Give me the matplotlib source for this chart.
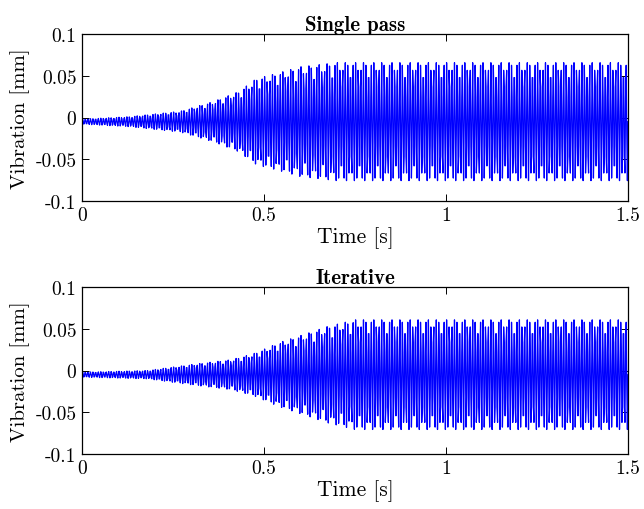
#vibration response - single pass vs iterative
import numpy as np
import matplotlib.pyplot as plt

plt.rcParams['font.family'] = 'cmr10'
plt.rcParams['mathtext.fontset'] = 'cm'
plt.rcParams['axes.unicode_minus'] = False

#envelope (time [s], half amplitude [mm])
env_t = [0, 0.13, 0.27, 0.36, 0.43, 0.48, 0.535, 0.6, 0.7, 1.5]
env_single = [0.003, 0.006, 0.0125, 0.024, 0.036, 0.052, 0.058, 0.066, 0.071, 0.071]
env_t_iter = [0, 0.18, 0.315, 0.41, 0.47, 0.545, 0.635, 0.675, 0.75, 1.5]
env_iter = [0.003, 0.005, 0.013, 0.018, 0.025, 0.039, 0.052, 0.058, 0.066, 0.066]
offset = -0.005        # centre of the band sits a bit below zero
f_vib = 140.0          # oscillation frequency read from the spacing of peaks [Hz]
fs = 600.0             # logging rate [Hz]

titles = ['Single pass', 'Iterative']
xticks = [0, 0.5, 1, 1.5]
xtick_labels = ['0', '0.5', '1', '1.5']
yticks = [-0.1, -0.05, 0, 0.05, 0.1]
ytick_labels = ['-0.1', '-0.05', '0', '0.05', '0.1']

t = np.arange(0, 1.5 + 1 / fs, 1 / fs)
y_single = offset + np.interp(t, env_t, env_single) * np.sin(2 * np.pi * f_vib * t)
y_iter = offset + np.interp(t, env_t_iter, env_iter) * np.sin(2 * np.pi * f_vib * t)

fig = plt.figure(figsize=(6.44, 5.10), dpi=100)
ax1 = fig.add_axes([82 / 644, 1 - 202 / 510, 546 / 644, 167 / 510])
ax2 = fig.add_axes([82 / 644, 1 - 455 / 510, 546 / 644, 167 / 510])

for ax, y, title in zip([ax1, ax2], [y_single, y_iter], titles):
    ax.plot(t, y, color=(0, 0, 1), lw=0.9)
    ax.set_xlim(0, 1.5)
    ax.set_ylim(-0.1, 0.1)
    ax.set_xticks(xticks)
    ax.set_xticklabels(xtick_labels)
    ax.set_yticks(yticks)
    ax.set_yticklabels(ytick_labels)
    ax.tick_params(direction='in', top=True, right=True, labelsize=14, length=5, width=0.7, pad=4)
    for s in ax.spines.values():
        s.set_linewidth(0.9)
    ax.set_title(title, fontsize=15, fontfamily='cmb10', pad=3)
    ax.set_xlabel('Time [s]', fontsize=15.5, labelpad=1)
    ax.set_ylabel('Vibration [mm]', fontsize=15, labelpad=4)

plt.savefig('out.png', dpi=100)
